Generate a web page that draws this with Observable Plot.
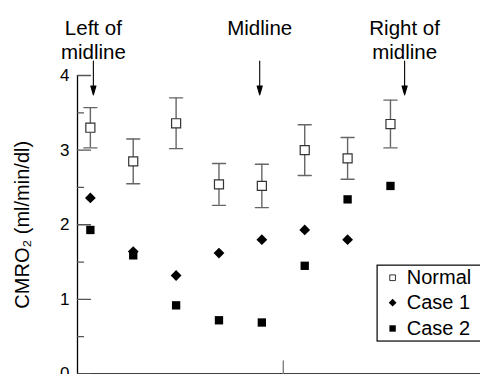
<!DOCTYPE html>
<html>
<head>
<meta charset="utf-8">
<script src="https://cdn.jsdelivr.net/npm/d3@7"></script>
<script src="https://cdn.jsdelivr.net/npm/@observablehq/plot@0.6"></script>
<style>
  html, body { margin: 0; padding: 0; background: #fff; overflow: hidden; }
  #chart svg { display: block; }
</style>
</head>
<body>
<div id="chart"></div>
<script>
// ---- data ----
const positions = [1, 2, 3, 4, 5, 6, 7, 8];
const normalMean = [3.30, 2.85, 3.36, 2.54, 2.52, 3.00, 2.89, 3.35];
const normalErr  = [0.27, 0.30, 0.34, 0.28, 0.29, 0.34, 0.28, 0.32];
const case1      = [2.36, 1.64, 1.32, 1.62, 1.80, 1.93, 1.80, null];
const case2      = [1.93, 1.59, 0.92, 0.72, 0.69, 1.45, 2.34, 2.52];

const yMajorTicks = [0, 1, 2, 3, 4];
const yMinorTicks = [0.5, 1.5, 2.5, 3.5];
const midlinePos = [5.5];

const regionLabels = ["Left of\nmidline", "Midline", "Right of\nmidline"];
const regionX = [1.07, 4.95, 8.33];

const legendNames = ["Normal", "Case 1", "Case 2"];
const yLabel = "CMRO\u2082 (ml/min/dl)";

// ---- build tables ----
const normal = positions.map((p, i) => ({x: p, y: normalMean[i], lo: normalMean[i] - normalErr[i], hi: normalMean[i] + normalErr[i]}));
const c1 = positions.map((p, i) => ({x: p, y: case1[i]})).filter(d => d.y != null);
const c2 = positions.map((p, i) => ({x: p, y: case2[i]})).filter(d => d.y != null);
const regions = regionLabels.map((t, i) => ({text: t, x: regionX[i]}));

// legend layout (in data units, inside the plot area)
const legendBox = {x1: 7.7, x2: 10.3, y1: 0.435, y2: 1.452};
const legendRowY = [1.29, 0.955, 0.61];
const legendRows = legendNames.map((n, i) => ({name: n, y: legendRowY[i]}));
const legendSymX = 8.05, legendTextX = 8.38;

const lineShape = {draw(ctx, l) { ctx.moveTo(0, 0); ctx.lineTo(0, -l); }};
const arrowShape = {draw(ctx, l) {
  ctx.moveTo(0, 0); ctx.lineTo(0, -l + 8);
  ctx.moveTo(0, -l); ctx.lineTo(-2.6, -l + 9); ctx.lineTo(2.6, -l + 9); ctx.closePath();
}};

const FONT = "'Liberation Sans', Arial, Helvetica, sans-serif";
const xMin = 0.7;

const chart = Plot.plot({
  width: 480,
  height: 374,
  marginLeft: 77,
  marginRight: 0,
  marginTop: 75,
  marginBottom: 0.5,
  style: {fontFamily: FONT, background: "white", overflow: "visible"},
  x: {domain: [xMin, 10.1], axis: null},
  y: {domain: [0, 4], axis: null},
  marks: [
    // axes
    Plot.ruleY([0], {stroke: "black", strokeWidth: 1.3}),
    Plot.ruleX([xMin], {y1: 0, y2: 4, stroke: "black", strokeWidth: 1.3}),
    Plot.vector(yMajorTicks, {x: xMin, y: d => d, rotate: 90, length: 13, anchor: "start", shape: lineShape, stroke: "#555", strokeWidth: 1.3}),
    Plot.vector(yMinorTicks, {x: xMin, y: d => d, rotate: 90, length: 6, anchor: "start", shape: lineShape, stroke: "#555", strokeWidth: 1.3}),
    Plot.text(yMajorTicks, {x: xMin, y: d => d, text: d => String(d), textAnchor: "end", dx: -8, fontSize: 17, fill: "black"}),
    Plot.vector(midlinePos, {x: d => d, y: 0, rotate: 0, length: 13, anchor: "start", shape: lineShape, stroke: "#777", strokeWidth: 1.3}),
    Plot.text([yLabel], {frameAnchor: "left", y: 2, dx: -55, rotate: -90, text: d => d, fontSize: 20, textAnchor: "middle", fill: "black"}),

    // region annotations
    Plot.text(regions, {x: "x", y: 4.77, text: "text", lineAnchor: "top", lineHeight: 1.17, fontSize: 20.5, textAnchor: "middle", fill: "black"}),
    Plot.vector(regions, {x: "x", y: 4.195, rotate: 180, length: 34, anchor: "start", shape: arrowShape, stroke: "black", fill: "black", strokeWidth: 1.1}),

    // normal: error bars + open squares
    Plot.ruleX(normal, {x: "x", y1: "lo", y2: "hi", stroke: "#666", strokeWidth: 1.4}),
    Plot.vector(normal, {x: "x", y: "lo", rotate: 90, length: 13, anchor: "middle", shape: lineShape, stroke: "#666", strokeWidth: 1.4}),
    Plot.vector(normal, {x: "x", y: "hi", rotate: 90, length: 13, anchor: "middle", shape: lineShape, stroke: "#666", strokeWidth: 1.4}),
    Plot.dot(normal, {x: "x", y: "y", symbol: "square", r: 5.1, fill: "white", stroke: "#333", strokeWidth: 1.2}),

    // case 2: filled squares
    Plot.dot(c2, {x: "x", y: "y", symbol: "square", r: 4.7, fill: "black", stroke: "none"}),
    // case 1: diamonds
    Plot.dot(c1, {x: "x", y: "y", symbol: "square", rotate: 45, r: 4.3, fill: "black", stroke: "none"}),

    // legend
    Plot.rect([legendBox], {x1: "x1", x2: "x2", y1: "y1", y2: "y2", fill: "white", stroke: "black", strokeWidth: 1.2, clip: "frame"}),
    Plot.dot(legendRows.filter((d, i) => i === 0), {x: legendSymX, y: "y", symbol: "square", r: 3.2, fill: "white", stroke: "#333", strokeWidth: 1}),
    Plot.dot(legendRows.filter((d, i) => i === 1), {x: legendSymX, y: "y", symbol: "square", rotate: 45, r: 3.1, fill: "black", stroke: "none"}),
    Plot.dot(legendRows.filter((d, i) => i === 2), {x: legendSymX, y: "y", symbol: "square", r: 3.6, fill: "black", stroke: "none"}),
    Plot.text(legendRows, {x: legendTextX, y: "y", text: "name", textAnchor: "start", fontSize: 20, fill: "black"})
  ]
});

document.getElementById("chart").appendChild(chart);
</script>
</body>
</html>
